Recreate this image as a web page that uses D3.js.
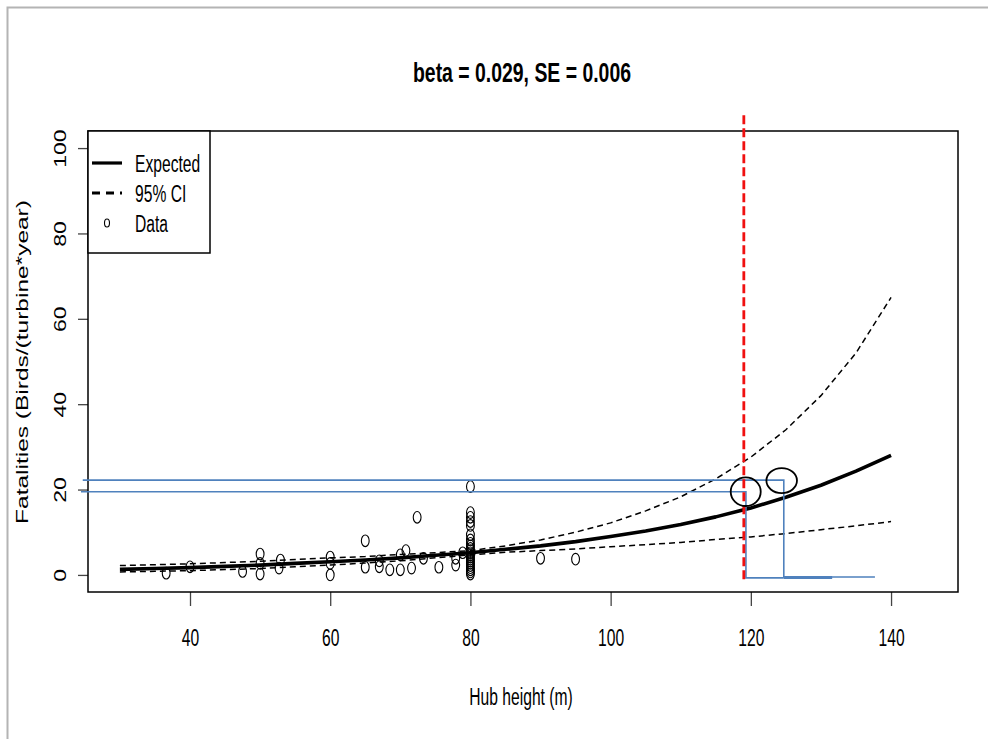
<!DOCTYPE html>
<html>
<head>
<meta charset="utf-8">
<script src="https://cdn.jsdelivr.net/npm/d3@7"></script>
<style>
  body { margin: 0; background: #fff; }
  text { font-family: "Liberation Sans", Arial, sans-serif; fill: #000; }
</style>
</head>
<body>
<script>
const width = 988, height = 739;
const sx = 0.68; // picture is squeezed horizontally

// fitted curve, read at 5 m steps
const curveHub = [30, 35, 40, 45, 50, 55, 60, 65, 70, 75, 80, 85, 90, 95, 100, 105, 110, 115, 120, 125, 130, 135, 140];
const expected = [1.3, 1.5, 1.7, 2.0, 2.3, 2.7, 3.1, 3.5, 4.0, 4.6, 5.2, 6.0, 6.8, 7.8, 9.0, 10.3, 11.8, 13.6, 15.7, 18.2, 21.0, 24.3, 28.0];
const ciUpper = [2.2, 2.4, 2.6, 2.9, 3.2, 3.6, 4.0, 4.3, 4.8, 5.2, 5.7, 6.8, 8.2, 10.0, 12.2, 15.0, 18.3, 22.5, 27.6, 34.0, 42.0, 52.0, 65.0];
const ciLower = [0.7, 0.85, 1.0, 1.25, 1.5, 1.9, 2.3, 2.8, 3.3, 4.0, 4.7, 5.3, 5.7, 6.1, 6.6, 7.1, 7.6, 8.3, 8.9, 9.7, 10.6, 11.5, 12.5];

// observed turbines (other than the 80 m column)
const dataHub = [36.6, 40, 47.5, 50, 50, 50, 52.7, 52.9, 60, 60,
  60, 65, 65, 67, 67, 68.5, 70, 70, 70.8, 71.6,
  72.4, 73.3, 75.5, 77.9, 77.9, 78.9, 90, 95];
const dataFat = [0.4, 1.9, 0.8, 4.9, 2.7, 0.2, 1.6, 3.5, 4.2, 2.7,
  0.0, 8.0, 1.8, 3.3, 1.9, 1.2, 1.2, 4.7, 5.7, 1.6,
  13.5, 3.9, 1.8, 2.3, 3.9, 5.2, 3.9, 3.7];
// turbines at 80 m hub height
const fat80 = [20.7, 14.6, 13.5, 12.5, 11.6, 9.4, 8.2, 7.4, 6.8, 6.2,
  5.7, 5.2, 4.7, 4.2, 3.7, 3.2, 2.7, 2.2, 1.7, 1.2, 0.7, 0.2];

const xTicks = [40, 60, 80, 100, 120, 140];
const yTicks = [0, 20, 40, 60, 80, 100];
const title = "beta = 0.029, SE = 0.006";
const xLabel = "Hub height (m)";
const yLabel = "Fatalities (Birds/(turbine*year)";
const legendLabels = ["Expected", "95% CI", "Data"];

// hand-drawn annotation on top of the plot
const cutoffHub = 119.0, cutoffRange = [-1.6, 107.7];
const blueA = [[24.7, 22.2], [124.7, 22.2], [124.7, -0.5], [137.7, -0.5]];
const blueB = [[24.45, 19.5], [119.3, 19.5], [119.3, -0.7], [124.7, -0.7]];
const blueThick = [[124.7, -0.6], [131.6, -0.6]];
const rings = [[119.27, 19.5], [124.4, 22.1]];

const svg = d3.select("body").append("svg").attr("width", width).attr("height", height);
svg.append("rect").attr("width", width).attr("height", height).attr("fill", "#fff");

// grey frame of the screenshot
svg.append("path").attr("d", "M7.5,739V7.5H988").attr("fill", "none").attr("stroke", "#b4b4b4").attr("stroke-width", 2);

const x = d3.scaleLinear().domain([25.45, 149.55]).range([88, 958]);
const y = d3.scaleLinear().domain([-4, 104]).range([592, 131]);

// axes
const xAxis = svg.append("g").attr("transform", "translate(0,592)")
  .call(d3.axisBottom(x).tickValues(xTicks).tickSize(14).tickPadding(0).tickFormat(d3.format("d")));
const yAxis = svg.append("g").attr("transform", "translate(88,0)")
  .call(d3.axisLeft(y).tickValues(yTicks).tickSize(10).tickFormat(d3.format("d")));
[xAxis, yAxis].forEach(a => {
  a.select(".domain").remove();
  a.selectAll(".tick line").attr("stroke", "#444").attr("stroke-width", 1.3);
  a.selectAll(".tick text").attr("font-size", 23).attr("fill", "#000")
    .style("font-family", "'Liberation Sans', Arial, sans-serif");
});
xAxis.selectAll(".tick text").attr("y", 0).attr("dy", 0)
  .attr("transform", `translate(0,54) scale(${sx},1)`);
yAxis.selectAll(".tick text").attr("x", 0).attr("dy", 0).attr("text-anchor", "middle")
  .attr("transform", `translate(-22,0) scale(${sx},1) rotate(-90)`);

// plot box
svg.append("rect").attr("x", 88).attr("y", 131).attr("width", 870).attr("height", 461)
  .attr("fill", "none").attr("stroke", "#000").attr("stroke-width", 1.5);

// data points
const points = dataHub.map((h, i) => [h, dataFat[i]]).concat(fat80.map(f => [80, f]));
svg.append("g").selectAll("ellipse")
  .data(points)
  .enter().append("ellipse")
  .attr("cx", d => x(d[0])).attr("cy", d => y(d[1]))
  .attr("rx", 3.9).attr("ry", 5.8)
  .attr("fill", "none").attr("stroke", "#000").attr("stroke-width", 1.1);

// curves
const line = d3.line().x((d, i) => x(curveHub[i])).y(d => y(d));
svg.append("path").attr("d", line(ciUpper)).attr("fill", "none")
  .attr("stroke", "#000").attr("stroke-width", 1.5).attr("stroke-dasharray", "6,4");
svg.append("path").attr("d", line(ciLower)).attr("fill", "none")
  .attr("stroke", "#000").attr("stroke-width", 1.5).attr("stroke-dasharray", "6,4");
svg.append("path").attr("d", line(expected)).attr("fill", "none")
  .attr("stroke", "#000").attr("stroke-width", 3.6).attr("stroke-linejoin", "round");

// annotation overlay
const pline = d3.line().x(d => x(d[0])).y(d => y(d[1]));
const blue = "#4f81bd";
svg.append("path").attr("d", pline(blueA)).attr("fill", "none").attr("stroke", blue).attr("stroke-width", 1.6);
svg.append("path").attr("d", pline(blueB)).attr("fill", "none").attr("stroke", blue).attr("stroke-width", 1.6);
svg.append("path").attr("d", pline(blueThick)).attr("fill", "none").attr("stroke", blue).attr("stroke-width", 3);
svg.append("line")
  .attr("x1", x(cutoffHub)).attr("x2", x(cutoffHub))
  .attr("y1", y(cutoffRange[1])).attr("y2", y(cutoffRange[0]))
  .attr("stroke", "#f01010").attr("stroke-width", 2.8).attr("stroke-dasharray", "9,4");
svg.append("g").selectAll("ellipse").data(rings).enter().append("ellipse")
  .attr("cx", d => x(d[0])).attr("cy", d => y(d[1]))
  .attr("rx", (d, i) => i ? 15.3 : 15).attr("ry", (d, i) => i ? 12.5 : 14.3)
  .attr("fill", "none").attr("stroke", "#000").attr("stroke-width", 1.8);

// legend
const lg = svg.append("g");
lg.append("rect").attr("x", 88).attr("y", 131).attr("width", 122).attr("height", 122)
  .attr("fill", "#fff").attr("stroke", "#000").attr("stroke-width", 1.5);
const rowsY = [163, 193, 223];
lg.append("line").attr("x1", 92).attr("x2", 122).attr("y1", rowsY[0]).attr("y2", rowsY[0])
  .attr("stroke", "#000").attr("stroke-width", 3.2);
lg.append("line").attr("x1", 92).attr("x2", 122).attr("y1", rowsY[1]).attr("y2", rowsY[1])
  .attr("stroke", "#000").attr("stroke-width", 3).attr("stroke-dasharray", "8,6");
lg.append("ellipse").attr("cx", 107).attr("cy", rowsY[2]).attr("rx", 2.5).attr("ry", 4)
  .attr("fill", "none").attr("stroke", "#000").attr("stroke-width", 1.1);
lg.selectAll("text.lab").data(legendLabels).enter().append("text").attr("class", "lab")
  .attr("transform", (d, i) => `translate(135,${rowsY[i] + 9}) scale(${sx},1)`)
  .attr("font-size", 23).text(d => d);

// titles
svg.append("text").attr("x", 522).attr("y", 82).attr("text-anchor", "middle")
  .attr("font-size", 28).attr("font-weight", "bold")
  .attr("textLength", 218).attr("lengthAdjust", "spacingAndGlyphs").text(title);
svg.append("text").attr("transform", `translate(521,705) scale(${sx},1)`).attr("text-anchor", "middle")
  .attr("font-size", 23).text(xLabel);
svg.append("text").attr("transform", `translate(28,362) scale(${sx},1) rotate(-90)`).attr("text-anchor", "middle")
  .attr("font-size", 24.5).text(yLabel);
</script>
</body>
</html>
